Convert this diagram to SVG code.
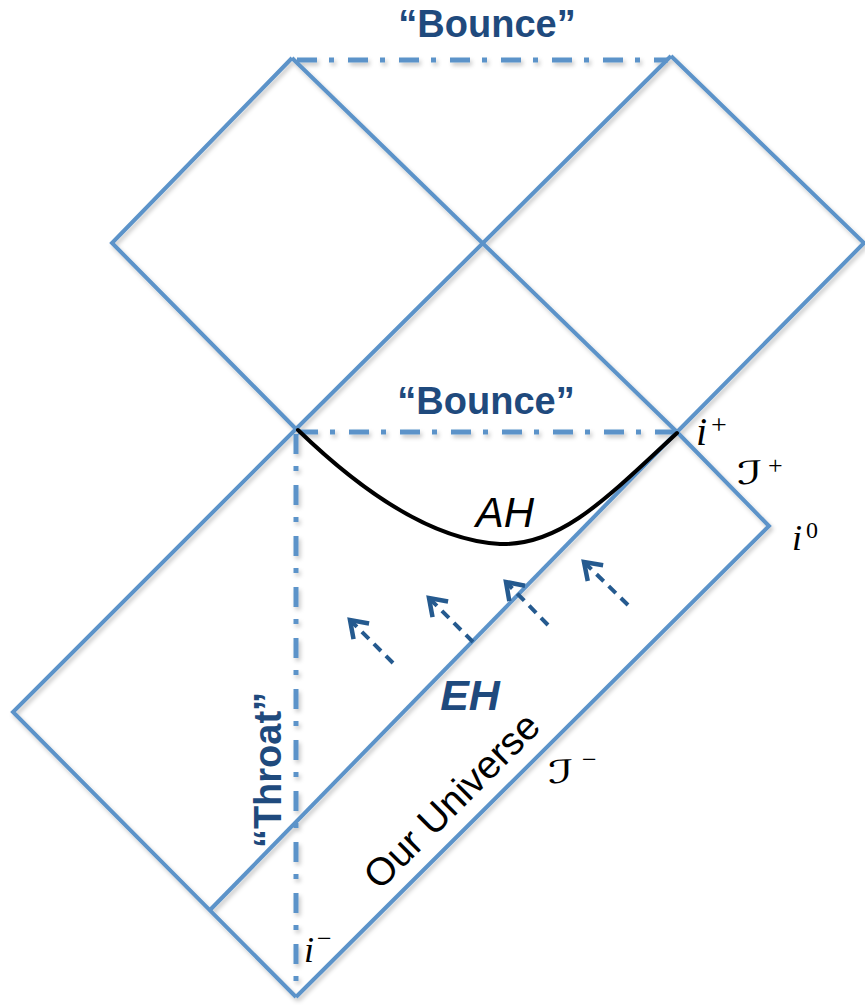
<svg xmlns="http://www.w3.org/2000/svg" width="865" height="1005" viewBox="0 0 865 1005">
  <style>
    .ln { fill: none; stroke: #5b93c9; stroke-width: 4; stroke-linejoin: miter; }
    .dd { fill: none; stroke: #5b93c9; stroke-width: 5; stroke-dasharray: 20 12 5 14; }
    .ah { fill: none; stroke: #000; stroke-width: 4; stroke-linecap: round; }
    .arr { fill: none; stroke: #255a8f; stroke-width: 4; stroke-dasharray: 10 7; }
    .lbl { font-family: "Liberation Sans", Arial, sans-serif; font-weight: bold; fill: #1f4a7d; }
    .math { font-family: "Liberation Serif", "Times New Roman", serif; fill: #000; }
    .scr { font-family: "DejaVu Sans", "DejaVu Serif", serif; fill: #000; }
  </style>
  <defs>
    <filter id="sh" x="-10%" y="-10%" width="120%" height="120%">
      <feDropShadow dx="2" dy="3" stdDeviation="2" flood-color="#000" flood-opacity="0.22"/>
    </filter>
    <marker id="head" markerUnits="userSpaceOnUse" markerWidth="30" markerHeight="30" refX="0" refY="0" viewBox="-20 -15 24 30" orient="auto">
      <path d="M-16,-11 L0,0 L-16,11" fill="none" stroke="#255a8f" stroke-width="4.5" stroke-dasharray="none"/>
    </marker>
  </defs>
  <rect width="865" height="1005" fill="#fff"/>

  <g id="penrose-lines" filter="url(#sh)">
    <path class="ln" d="M292,58 L677,432"/>
    <path class="ln" d="M671,56 L296,429"/>
    <path class="ln" d="M292,58 L112,243 L296,429"/>
    <path class="ln" d="M671,56 L864,243 L677,432"/>
    <path class="ln" d="M677,432 L769,526 L296,997"/>
    <path class="ln" d="M296,429 L13,712 L296,997"/>
    <path class="ln" d="M210,910 L677,432"/>
    <path class="dd" d="M297,60 L668,60"/>
    <path class="dd" d="M298,432 L675,432"/>
    <path class="dd" d="M296,434 L296,995"/>
  </g>

  <g id="apparent-horizon">
    <path class="ah" d="M298,430 C360,490 430,540 500,544 C560,546 605,500 677,433"/>
  </g>

  <g id="arrows">
    <path class="arr" d="M393,663 L350,620" marker-end="url(#head)"/>
    <path class="arr" d="M473,642 L429,598" marker-end="url(#head)"/>
    <path class="arr" d="M548,625 L506,582" marker-end="url(#head)"/>
    <path class="arr" d="M628,605 L584,562" marker-end="url(#head)"/>
  </g>

  <g id="labels">
    <text class="lbl" x="487" y="37" font-size="38" text-anchor="middle">“Bounce”</text>
    <text class="lbl" x="486" y="414" font-size="38" text-anchor="middle">“Bounce”</text>
    <text class="lbl" transform="translate(281,770) rotate(-90)" font-size="38" text-anchor="middle">“Throat”</text>
    <text class="lbl" x="470" y="710" font-size="43" font-style="italic" text-anchor="middle">EH</text>
    <text x="505" y="527" font-size="42" font-style="italic" text-anchor="middle" font-family="Liberation Sans, Arial, sans-serif" fill="#000">AH</text>
    <text transform="translate(461,810) rotate(-45)" font-size="39" text-anchor="middle" font-family="Liberation Sans, Arial, sans-serif" fill="#000">Our Universe</text>
  </g>

  <g id="math-labels">
    <text class="math" x="696" y="445" font-size="40" font-style="italic">i</text>
    <text class="math" x="711" y="434" font-size="28">+</text>
    <text class="scr" transform="translate(737,484) scale(1.7,1)" font-size="32">ℐ</text>
    <text class="math" x="768" y="474" font-size="26">+</text>
    <text class="math" x="792" y="550" font-size="36" font-style="italic">i</text>
    <text class="math" x="806" y="538" font-size="24">0</text>
    <text class="scr" transform="translate(548,783) scale(1.7,1)" font-size="32">ℐ</text>
    <text class="math" x="582" y="768" font-size="26">−</text>
    <text class="math" x="304" y="962" font-size="36" font-style="italic">i</text>
    <text class="math" x="317" y="947" font-size="26">−</text>
  </g>
</svg>
